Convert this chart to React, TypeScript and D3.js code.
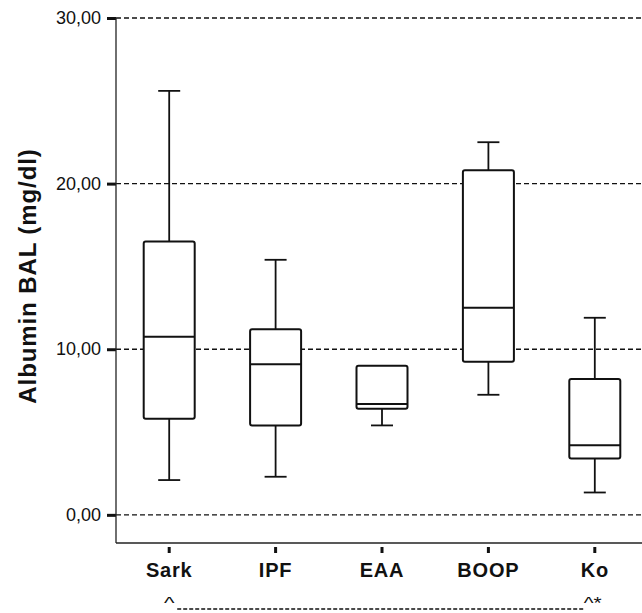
import React, { useEffect, useRef } from "react";
import * as d3 from "d3";

const categories = ["Sark", "IPF", "EAA", "BOOP", "Ko"];
const whiskerLow = [2.1, 2.3, 5.4, 7.25, 1.35];
const quart1 = [5.8, 5.4, 6.4, 9.25, 3.4];
const medians = [10.75, 9.1, 6.7, 12.5, 4.2];
const quart3 = [16.5, 11.2, 9.0, 20.8, 8.2];
const whiskerHigh = [25.6, 15.4, 9.0, 22.5, 11.9];
const yTicks = [0, 10, 20, 30];

export default function App() {
  const ref = useRef<SVGSVGElement>(null);

  useEffect(() => {
    document.body.style.margin = "0";
    const svg = d3.select(ref.current);
    svg.selectAll("*").remove();
    const W = 642, H = 613;
    const left = 116, right = 648, top = 18, bottom = 543;
    const font = "'Liberation Sans', Arial, sans-serif";

    svg.append("rect").attr("width", W).attr("height", H).attr("fill", "#fff");

    const x = d3.scaleBand().domain(categories).range([left, right]);
    const y = d3.scaleLinear().domain([-1.7, 30]).range([bottom, top]);

    const data = categories.map((c, i) => ({
      c,
      lo: whiskerLow[i],
      q1: quart1[i],
      med: medians[i],
      q3: quart3[i],
      hi: whiskerHigh[i],
    }));

    // gridlines
    svg
      .append("g")
      .selectAll("line")
      .data(yTicks)
      .join("line")
      .attr("x1", left)
      .attr("x2", W)
      .attr("y1", (d) => y(d))
      .attr("y2", (d) => y(d))
      .attr("stroke", "#111")
      .attr("stroke-width", 1.4)
      .attr("stroke-dasharray", "5,3");

    // y axis
    const yAxis = d3
      .axisLeft(y)
      .tickValues(yTicks)
      .tickSize(9)
      .tickPadding(6)
      .tickFormat((d) => d3.format(".2f")(+d).replace(".", ","));
    const gy = svg.append("g").attr("transform", `translate(${left},0)`).call(yAxis);
    gy.select(".domain").remove();
    gy.selectAll(".tick line").attr("stroke", "#111").attr("stroke-width", 3);
    gy.selectAll(".tick text")
      .attr("font-family", font)
      .attr("font-size", 18)
      .attr("fill", "#111");
    svg
      .append("line")
      .attr("x1", left)
      .attr("x2", left)
      .attr("y1", top)
      .attr("y2", bottom)
      .attr("stroke", "#222")
      .attr("stroke-width", 1.3);

    // x axis
    const xAxis = d3.axisBottom(x).tickSizeInner(0).tickSizeOuter(0).tickPadding(20);
    const gx = svg.append("g").attr("transform", `translate(0,${bottom})`).call(xAxis);
    gx.select(".domain").remove();
    gx.selectAll(".tick text")
      .attr("font-family", font)
      .attr("font-size", 20)
      .attr("font-weight", "bold")
      .attr("letter-spacing", 0.8)
      .attr("fill", "#111");
    gx.selectAll(".tick")
      .append("line")
      .attr("y1", 4)
      .attr("y2", 10)
      .attr("stroke", "#111")
      .attr("stroke-width", 3);
    svg
      .append("line")
      .attr("x1", left)
      .attr("x2", W)
      .attr("y1", bottom)
      .attr("y2", bottom)
      .attr("stroke", "#222")
      .attr("stroke-width", 1.3);

    // boxes
    const boxW = 51, capW = 22;
    const g = svg
      .append("g")
      .selectAll("g")
      .data(data)
      .join("g")
      .attr("transform", (d) => `translate(${x(d.c)! + x.bandwidth() / 2},0)`);
    g.append("line")
      .attr("y1", (d) => y(d.hi))
      .attr("y2", (d) => y(d.q3))
      .attr("stroke", "#111")
      .attr("stroke-width", 1.8);
    g.append("line")
      .attr("y1", (d) => y(d.q1))
      .attr("y2", (d) => y(d.lo))
      .attr("stroke", "#111")
      .attr("stroke-width", 1.8);
    g.filter((d) => d.hi > d.q3)
      .append("line")
      .attr("x1", -capW / 2)
      .attr("x2", capW / 2)
      .attr("y1", (d) => y(d.hi))
      .attr("y2", (d) => y(d.hi))
      .attr("stroke", "#111")
      .attr("stroke-width", 1.8);
    g.append("line")
      .attr("x1", -capW / 2)
      .attr("x2", capW / 2)
      .attr("y1", (d) => y(d.lo))
      .attr("y2", (d) => y(d.lo))
      .attr("stroke", "#111")
      .attr("stroke-width", 1.8);
    g.append("rect")
      .attr("x", -boxW / 2)
      .attr("width", boxW)
      .attr("y", (d) => y(d.q3))
      .attr("height", (d) => y(d.q1) - y(d.q3))
      .attr("rx", 2)
      .attr("fill", "#fff")
      .attr("stroke", "#111")
      .attr("stroke-width", 2);
    g.append("line")
      .attr("x1", -boxW / 2)
      .attr("x2", boxW / 2)
      .attr("y1", (d) => y(d.med))
      .attr("y2", (d) => y(d.med))
      .attr("stroke", "#111")
      .attr("stroke-width", 2);

    // y title
    svg
      .append("text")
      .attr("transform", `translate(36,276) rotate(-90)`)
      .attr("text-anchor", "middle")
      .attr("font-family", font)
      .attr("font-size", 24)
      .attr("font-weight", "bold")
      .attr("letter-spacing", 0.9)
      .attr("fill", "#111")
      .text("Albumin BAL (mg/dl)");

    // significance bracket
    const x0 = x("Sark")! + x.bandwidth() / 2;
    const x1 = x("Ko")! + x.bandwidth() / 2;
    const by = 609;
    svg
      .append("text")
      .attr("transform", `translate(${x0},${by}) scale(1.4,1)`)
      .attr("text-anchor", "middle")
      .attr("font-family", font)
      .attr("font-size", 16)
      .attr("fill", "#111")
      .text("^");
    svg
      .append("line")
      .attr("x1", x0 + 8)
      .attr("x2", x1 - 11)
      .attr("y1", by)
      .attr("y2", by)
      .attr("stroke", "#111")
      .attr("stroke-width", 1.4)
      .attr("stroke-dasharray", "4,2");
    svg
      .append("text")
      .attr("transform", `translate(${x1 - 11},${by}) scale(1.3,1)`)
      .attr("font-family", font)
      .attr("font-size", 16)
      .attr("fill", "#111")
      .text("^*");
  }, []);

  return <svg ref={ref} width={642} height={613} style={{ display: "block" }} />;
}
